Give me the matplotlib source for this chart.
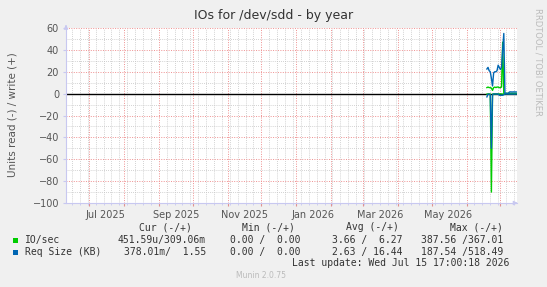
import matplotlib
matplotlib.use("Agg")
import matplotlib.pyplot as plt
import matplotlib.dates as mdates
import pandas as pd
import numpy as np

# ---- data ----
days = pd.date_range("2026-06-19", "2026-07-15", freq="D")
io_write = [5.5, 6.0, 5.5, 5.5, 5.0, 3.0, 5.5, 6.0, 5.5, 6.0, 6.0, 5.5, 5.5, 6.0,
            47.0, 0.5, 0.3, 0.3, 0.3, 0.3, 0.3, 0.3, 0.3, 0.3, 0.3, 0.3, 0.31]
io_read = [0.5, 0.3, 0.3, 0.4, 90.0, 0.5, 0.3, 0.3, 0.3, 0.3, 0.3, 0.3, 0.3, 0.3,
           0.5, 0.3, 0.1, 0.1, 0.1, 0.1, 0.1, 0.1, 0.1, 0.1, 0.1, 0.1, 0.0]
req_write = [22.5, 24.0, 21.0, 20.0, 14.0, 7.0, 19.0, 20.0, 20.0, 21.0, 26.0, 24.0, 22.0, 24.0,
             40.0, 55.0, 0.3, 0.2, 0.2, 0.3, 1.5, 1.6, 1.5, 1.5, 1.6, 1.5, 1.55]
req_read = [3.0, 0.5, 0.5, 1.0, 50.0, 1.0, 0.3, 0.3, 0.3, 0.3, 0.3, 1.5, 1.5, 1.5,
            1.5, 1.0, 0.3, 0.3, 0.3, 0.3, 0.4, 0.4, 0.4, 0.4, 0.4, 0.4, 0.38]

start = pd.Timestamp("2025-06-10 17:00")
end = pd.Timestamp("2026-07-15 17:00")

legend_names = ["IO/sec", "Req Size (KB)"]
legend_cur = ["451.59u/309.06m", "378.01m/  1.55"]
legend_min = ["0.00 /  0.00", "0.00 /  0.00"]
legend_avg = ["3.66 /  6.27", "2.63 / 16.44"]
legend_max = ["387.56 /367.01", "187.54 /518.49"]
colors = ["#00CC00", "#0066B3"]

W, H = 547, 287
fig = plt.figure(figsize=(W / 100, H / 100), dpi=100, facecolor="#F0F0F0")
ax = fig.add_axes([66 / W, 1 - 203 / H, 451 / W, 175 / H])
ax.set_facecolor("white")

# grids
ax.set_xlim(start, end)
ax.set_ylim(-100, 60)
ax.xaxis.set_major_locator(mdates.MonthLocator())
ax.xaxis.set_minor_locator(mdates.WeekdayLocator(byweekday=mdates.MO))
ax.set_yticks(np.arange(-100, 61, 20))
ax.set_yticks(np.arange(-90, 60, 10), minor=True)
ax.grid(which="minor", color="#C4C4C4", linestyle=(0, (1, 1.5)), linewidth=0.6)
ax.grid(which="major", color="#EE9090", linestyle=(0, (1, 1.5)), linewidth=0.7)
ax.set_axisbelow(True)
ax.set_xticklabels([])
ax.tick_params(axis="x", which="major", length=2, color="#E09090")
ax.tick_params(axis="x", which="minor", length=1.5, color="#C8C8F0")
ax.tick_params(axis="y", which="major", length=2, color="#C8C8F0", labelsize=7, labelcolor="#555555", pad=3)
ax.tick_params(axis="y", which="minor", length=0)

# month labels every 2 months centered mid-month
for m in pd.date_range("2025-07-01", "2026-05-01", freq="2MS"):
    ax.text(m + pd.Timedelta(days=15), -0.04, m.strftime("%b %Y"), transform=ax.get_xaxis_transform(),
            ha="center", va="top", fontsize=7, color="#555555")

for s in ["top", "right"]:
    ax.spines[s].set_visible(False)
for s in ["left", "bottom"]:
    ax.spines[s].set_color("#C8C8F0")
    ax.spines[s].set_linewidth(0.8)

# arrows
ax.annotate("", xy=(1.008, 0), xytext=(0.99, 0), xycoords="axes fraction",
            arrowprops=dict(arrowstyle="-|>", color="#C8C8F0", lw=0.8, mutation_scale=6), annotation_clip=False)
ax.annotate("", xy=(0, 1.035), xytext=(0, 0.99), xycoords="axes fraction",
            arrowprops=dict(arrowstyle="-|>", color="#C8C8F0", lw=0.8, mutation_scale=6), annotation_clip=False)

# zero line
ax.axhline(0, color="black", linewidth=1.0, zorder=2)

# data
ax.plot(days, -np.array(io_read), color=colors[0], linewidth=1, zorder=3)
ax.plot(days, io_write, color=colors[0], linewidth=1, zorder=3)
ax.plot(days, -np.array(req_read), color=colors[1], linewidth=1, zorder=4)
ax.plot(days, req_write, color=colors[1], linewidth=1, zorder=4)

# title & labels
fig.text(0.5, 1 - 16 / H, "IOs for /dev/sdd - by year", ha="center", va="center", fontsize=9, color="#333333")
fig.text(13 / W, 1 - 115 / H, "Units read (-) / write (+)", rotation=90, ha="center", va="center",
         fontsize=7.5, color="#555555")
fig.text(538 / W, 1 - 8 / H, "RRDTOOL / TOBI OETIKER", rotation=270, ha="center", va="top",
         fontsize=6, color="#BBBBBB")

# legend table
mono = "DejaVu Sans Mono"
fs = 7
tc = "#333333"
def ty(y):
    return 1 - y / H
fig.text(192 / W, ty(227), "Cur (-/+)", ha="right", va="center", fontsize=fs, family=mono, color=tc)
fig.text(295 / W, ty(227), "Min (-/+)", ha="right", va="center", fontsize=fs, family=mono, color=tc)
fig.text(399 / W, ty(227), "Avg (-/+)", ha="right", va="center", fontsize=fs, family=mono, color=tc)
fig.text(503 / W, ty(227), "Max (-/+)", ha="right", va="center", fontsize=fs, family=mono, color=tc)
for i, yy in enumerate([240, 252]):
    fig.patches.append(plt.Rectangle((13 / W, ty(yy + 3)), 5 / W, 5 / H, transform=fig.transFigure,
                                     facecolor=colors[i], edgecolor="none"))
    fig.text(25 / W, ty(yy), legend_names[i], ha="left", va="center", fontsize=fs, family=mono, color=tc)
    fig.text(206 / W, ty(yy), legend_cur[i], ha="right", va="center", fontsize=fs, family=mono, color=tc)
    fig.text(301 / W, ty(yy), legend_min[i], ha="right", va="center", fontsize=fs, family=mono, color=tc)
    fig.text(402 / W, ty(yy), legend_avg[i], ha="right", va="center", fontsize=fs, family=mono, color=tc)
    fig.text(503 / W, ty(yy), legend_max[i], ha="right", va="center", fontsize=fs, family=mono, color=tc)
fig.text(509 / W, ty(263), "Last update: Wed Jul 15 17:00:18 2026", ha="right", va="center",
         fontsize=fs, family=mono, color=tc)
fig.text(261 / W, ty(276), "Munin 2.0.75", ha="center", va="center", fontsize=5.5, color="#BBBBBB")

fig.savefig("out.png", dpi=100, facecolor=fig.get_facecolor())
